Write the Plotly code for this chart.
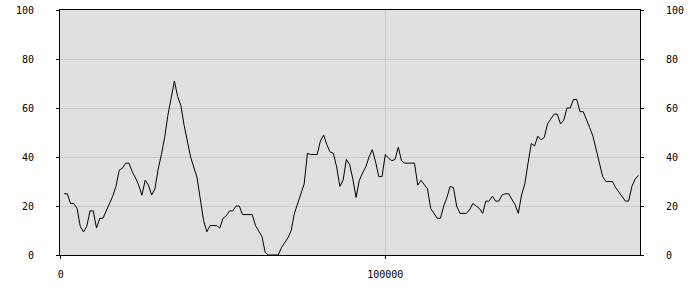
import plotly.graph_objects as go

x_k = [1, 2, 3, 4, 5, 6, 7, 8, 9, 10, 11, 12, 13, 14, 16, 17, 18, 19, 20, 21,
       22, 23, 24, 25, 26, 27, 28, 29, 30, 31, 32, 33, 34, 35, 36, 37, 38, 40, 42, 43,
       44, 45, 46, 48, 49, 50, 51, 52, 53, 54, 55, 56, 59, 60, 62, 63, 64, 67, 68, 70,
       71, 72, 74, 75, 76, 77, 79, 80, 81, 82, 83, 84, 85, 86, 87, 88, 89, 90, 91, 92,
       93, 94, 95, 96, 97, 98, 99, 100, 101, 102, 103, 104, 105, 106, 109, 110, 111, 113, 114, 116,
       117, 118, 119, 120, 121, 122, 123, 125, 126, 127, 129, 130, 131, 132, 133, 134, 135, 136, 137, 138,
       140, 141, 142, 143, 144, 145, 146, 147, 148, 149, 150, 151, 152, 153, 154, 155, 156, 157, 158, 159,
       160, 161, 162, 163, 164, 165, 166, 167, 168, 169, 170, 171, 172, 173, 174, 175, 176, 177, 178]
values = [25, 25, 21, 21, 19, 11.7, 9.4, 11.7, 18, 18, 11, 15, 15, 18, 24, 28, 34.6, 35.5, 37.5, 37.5,
          34, 31.5, 28.5, 24.4, 30.5, 28.5, 24.5, 27, 35, 41, 48, 57, 64.7, 71, 64.7, 61, 53, 40, 31.5, 22.5,
          14, 9.5, 12, 12, 11, 15, 16, 18, 18, 20, 20, 16.5, 16.5, 12, 7.5, 1, 0, 0, 3, 7,
          10, 17, 24.5, 29, 41.5, 41, 41, 46.5, 49, 45, 42, 41.5, 36, 28, 30.5, 39, 37, 31, 23.5, 30.5,
          33.5, 36, 40, 43, 38, 32, 32, 41, 39.5, 38.5, 39, 44, 38.5, 37.5, 37.5, 28.5, 30.5, 27, 19, 15,
          15, 20, 23.5, 28, 27.5, 20, 17, 17, 18.5, 21, 19, 17, 22, 22, 24, 22, 22, 24.5, 25, 25,
          20.5, 17, 24.5, 29, 37.5, 45.5, 44.5, 48.5, 47, 48, 53.5, 55.5, 57.5, 57.5, 53.5, 55, 60, 60, 63.5, 63.5,
          58.5, 58.5, 55.5, 52, 48.5, 43, 37.5, 32, 30, 30, 30, 27.5, 25.5, 24, 22, 22, 28, 31, 32.5]
x_vals = [k * 1000 for k in x_k]

y_ticks = [0, 20, 40, 60, 80, 100]
x_ticks = [0, 100000]

font = dict(family="DejaVu Sans Mono", size=10, color="#000000")

fig = go.Figure()
fig.add_trace(go.Scatter(x=x_vals, y=values, mode="lines",
                         line=dict(color="#000000", width=1), showlegend=False,
                         hoverinfo="skip"))
fig.add_trace(go.Scatter(x=x_vals, y=values, mode="lines", yaxis="y2",
                         line=dict(color="rgba(0,0,0,0)", width=0), showlegend=False,
                         hoverinfo="skip"))

fig.update_layout(
    width=700, height=300,
    margin=dict(l=60, r=60, t=10, b=45, autoexpand=False),
    paper_bgcolor="#ffffff",
    plot_bgcolor="#e0e0e0",
    font=font,
    xaxis=dict(range=[-250, 178500], tickvals=x_ticks, ticktext=[str(v) for v in x_ticks],
               showgrid=True, gridcolor="#cccccc", gridwidth=1, zeroline=False,
               showline=True, linecolor="#000000", linewidth=1, mirror=True,
               ticks="outside", ticklen=3, tickcolor="#000000", automargin=False,
               ticklabelstandoff=7, tickfont=font),
    yaxis=dict(range=[0, 100], tickvals=y_ticks, showgrid=True, gridcolor="#cccccc", gridwidth=1,
               zeroline=False, showline=True, linecolor="#000000", linewidth=1, mirror=True,
               ticks="outside", ticklen=3, tickcolor="#000000", automargin=False,
               ticklabelstandoff=20, tickfont=font),
    yaxis2=dict(range=[0, 100], tickvals=y_ticks, overlaying="y", side="right",
                showgrid=False, zeroline=False, showline=False,
                ticks="outside", ticklen=3, tickcolor="#000000", automargin=False,
                ticklabelstandoff=20, tickfont=font),
)

fig.write_html("out.html")
